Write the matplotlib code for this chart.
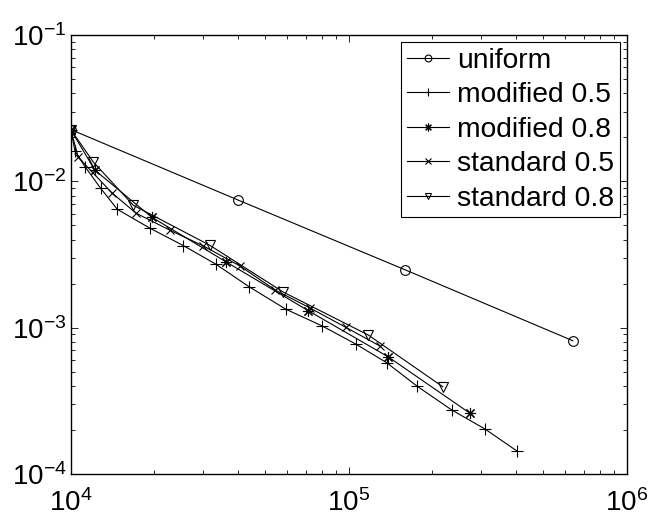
import numpy as np
import matplotlib
matplotlib.use("Agg")
import matplotlib.pyplot as plt

plt.rcParams['font.family'] = ['Liberation Sans', 'DejaVu Sans']
plt.rcParams['font.size'] = 20
plt.rcParams['mathtext.default'] = 'regular'

# error vs. degrees of freedom
x_uniform = [1.0e4, 4.0e4, 1.6e5, 6.4e5]
y_uniform = [0.0226, 7.45e-3, 2.48e-3, 8.14e-4]

x_mod05 = [1.0e4, 1.036e4, 1.126e4, 1.282e4, 1.471e4, 1.929e4, 2.541e4, 3.323e4,
           4.380e4, 5.950e4, 8.0e4, 1.060e5, 1.370e5, 1.766e5, 2.347e5, 3.092e5, 4.021e5]
y_mod05 = [0.0226, 0.01612, 0.01259, 8.96e-3, 6.44e-3, 4.78e-3, 3.64e-3, 2.72e-3,
           1.905e-3, 1.335e-3, 1.031e-3, 7.73e-4, 5.76e-4, 3.97e-4, 2.74e-4, 2.03e-4, 1.44e-4]

x_mod08 = [1.0e4, 1.22e4, 1.956e4, 3.628e4, 7.155e4, 1.385e5, 2.731e5]
y_mod08 = [0.0226, 0.01195, 5.69e-3, 2.81e-3, 1.306e-3, 6.33e-4, 2.60e-4]

x_std05 = [1.0e4, 1.065e4, 1.405e4, 1.718e4, 2.276e4, 2.999e4, 4.064e4, 5.431e4,
           7.257e4, 9.754e4, 1.296e5]
y_std05 = [0.0226, 0.01459, 8.36e-3, 6.06e-3, 4.63e-3, 3.62e-3, 2.64e-3, 1.81e-3,
           1.363e-3, 1.006e-3, 7.49e-4]

x_std08 = [1.0e4, 1.206e4, 1.68e4, 3.17e4, 5.818e4, 1.176e5, 2.178e5]
y_std08 = [0.0226, 0.01355, 6.86e-3, 3.65e-3, 1.75e-3, 8.91e-4, 3.95e-4]

labels = ["uniform", "modified 0.5", "modified 0.8", "standard 0.5", "standard 0.8"]

fig = plt.figure(figsize=(6.48, 5.17), dpi=100)
ax = fig.add_axes([70.7 / 648, 1 - 474 / 517, 556 / 648, 439 / 517])

lw = 0.8
asterisk = (8, 2, 0)  # matlab-like '*'
ax.loglog(x_uniform, y_uniform, 'k-o', lw=lw, ms=7, mfc='none', mew=0.8, label=labels[0])
ax.loglog(x_mod05, y_mod05, 'k-+', lw=lw, ms=8, mew=0.8, label=labels[1])
ax.loglog(x_mod08, y_mod08, 'k-', marker=asterisk, lw=lw, ms=8, mew=0.8, label=labels[2])
ax.loglog(x_std05, y_std05, 'k-x', lw=lw, ms=6, mew=0.8, label=labels[3])
ax.loglog(x_std08, y_std08, 'k-v', lw=lw, ms=7, mfc='none', mew=0.8, label=labels[4])

ax.set_xlim(1e4, 1e6)
ax.set_ylim(1e-4, 1e-1)

ax.tick_params(which='both', direction='in', top=True, right=True, width=0.6)
ax.tick_params(which='major', length=5)
ax.tick_params(which='minor', length=3)
ax.tick_params(axis='x', pad=11)
ax.tick_params(axis='y', pad=3)
for s in ax.spines.values():
    s.set_linewidth(1.0)

leg = ax.legend(loc='upper right', fancybox=False, framealpha=1, edgecolor='black',
                borderaxespad=0.25, labelspacing=0.3, handlelength=1.5,
                handletextpad=0.28, borderpad=0.2, markerscale=0.7,
                prop={'size': 20.3})
leg.get_frame().set_linewidth(0.8)

fig.savefig("out.png", dpi=100)
